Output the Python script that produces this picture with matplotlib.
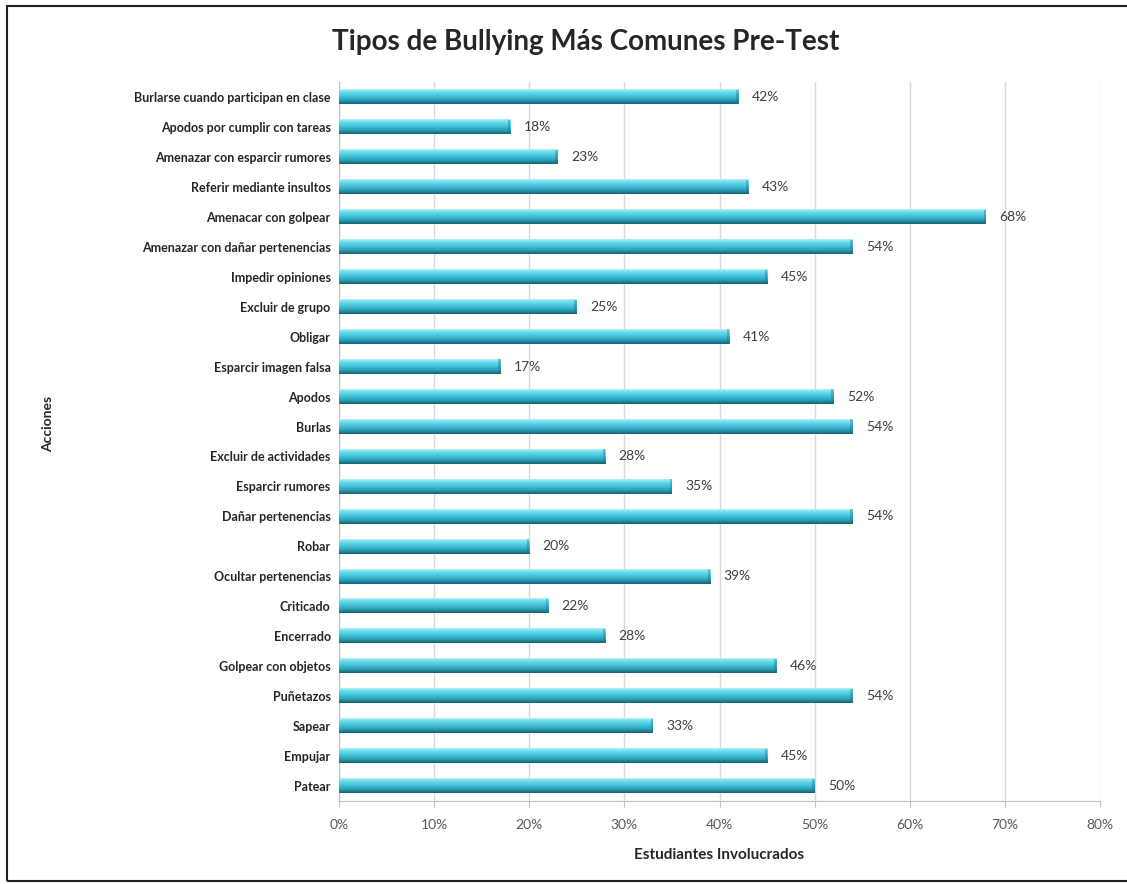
import numpy as np
import matplotlib.pyplot as plt
from matplotlib.colors import LinearSegmentedColormap
from matplotlib.patches import Rectangle

acciones = ['Burlarse cuando participan en clase', 'Apodos por cumplir con tareas',
            'Amenazar con esparcir rumores', 'Referir mediante insultos',
            'Amenacar con golpear', 'Amenazar con dañar pertenencias',
            'Impedir opiniones', 'Excluir de grupo', 'Obligar',
            'Esparcir imagen falsa', 'Apodos', 'Burlas', 'Excluir de actividades',
            'Esparcir rumores', 'Dañar pertenencias', 'Robar',
            'Ocultar pertenencias', 'Criticado', 'Encerrado',
            'Golpear con objetos', 'Puñetazos', 'Sapear', 'Empujar', 'Patear']
porcentajes = [42, 18, 23, 43, 68, 54, 45, 25, 41, 17, 52, 54, 28, 35, 54,
               20, 39, 22, 28, 46, 54, 33, 45, 50]
xticks = [0, 10, 20, 30, 40, 50, 60, 70, 80]

plt.rcParams['font.family'] = ['Lato', 'DejaVu Sans']

fig = plt.figure(figsize=(11.27, 8.84), dpi=100)
ax = fig.add_axes([0.3008, 0.0939, 0.6753, 0.8133])

# cylinder-like vertical gradient (top light, bottom dark)
cmap = LinearSegmentedColormap.from_list(
    'cyl', [(0.0, '#b5f1fa'), (0.18, '#6fdcec'), (0.45, '#45c6dc'),
            (0.75, '#2a9fb5'), (1.0, '#175f70')])
grad = np.linspace(0, 1, 64).reshape(-1, 1)
h = 0.48

for i, v in enumerate(porcentajes):
    ax.imshow(grad, cmap=cmap, aspect='auto', interpolation='bilinear',
              extent=(0, v, i + h / 2, i - h / 2), zorder=3)
    ax.add_patch(Rectangle((v - 0.25, i - h / 2), 0.25, h, color='#1c6b7d',
                           alpha=0.35, lw=0, zorder=4))
    ax.text(v + 1.4, i, f'{v}%', va='center', ha='left', fontsize=10,
            color='#404040', zorder=5)

ax.set_xlim(0, 80)
ax.set_ylim(len(acciones) - 0.5, -0.5)
ax.set_xticks(xticks)
ax.set_xticklabels([f'{t}%' for t in xticks], fontsize=10, color='#595959')
ax.set_yticks(range(len(acciones)))
ax.set_yticklabels(acciones, fontsize=9, fontweight='bold', color='#262626')
ax.tick_params(axis='y', length=0, pad=6)
ax.tick_params(axis='x', length=4, color='#bfbfbf', pad=9)
ax.grid(axis='x', color='#d9d9d9', lw=1, zorder=0)
ax.set_axisbelow(True)
for s in ['top', 'right']:
    ax.spines[s].set_visible(False)
for s in ['left', 'bottom']:
    ax.spines[s].set_color('#bfbfbf')

ax.set_xlabel('Estudiantes Involucrados', fontsize=11, fontweight='bold',
              color='#262626', labelpad=12)
fig.text(0.043, 0.52, 'Acciones', rotation=90, fontsize=10, fontweight='bold',
         color='#262626', ha='center', va='center')
fig.text(0.52, 0.952, 'Tipos de Bullying Más Comunes Pre-Test', fontsize=20,
         fontweight='bold', color='#262626', ha='center', va='center')

# outer chart frame
fig.patches.append(Rectangle((0.0062, 0.003), 0.995, 0.99, transform=fig.transFigure,
                             fill=False, edgecolor='#202020', lw=1.5))

fig.savefig('out.png', dpi=100)
